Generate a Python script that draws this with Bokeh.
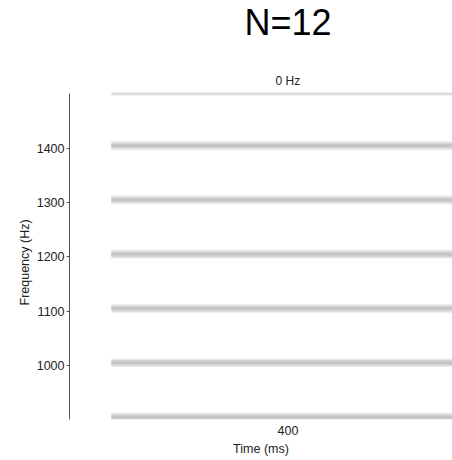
from bokeh.plotting import figure
from bokeh.models import Range1d, FixedTicker, Label, Title
from bokeh.embed import file_html
from bokeh.resources import INLINE

# data
title_text = "N=12"
panel_text = "0 Hz"
y_label = "Frequency (Hz)"
x_label = "Time (ms)"
band_freqs = [905, 1005, 1105, 1205, 1305, 1405, 1505]   # Hz, partial-visible at edges
t_start = [0] * len(band_freqs)                          # ms
t_end = [800] * len(band_freqs)                          # ms
y_ticks = [1000, 1100, 1200, 1300, 1400]
x_ticks = [400]
f_lo, f_hi = 900.5, 1501                                  # displayed frequency window

FONT = "Liberation Sans"

# frame spans the whole canvas height above the x axis; the upper part holds the titles
p = figure(frame_width=383, frame_height=419, output_backend="svg",
           toolbar_location=None, x_range=Range1d(-95, 773), y_range=Range1d(f_lo, 1672.3),
           min_border_left=69, min_border_top=0, min_border_right=0, min_border_bottom=41)
p.outline_line_color = None
p.background_fill_color = "white"
p.border_fill_color = "white"
p.grid.visible = False

# spectral bands as layered stripes, limited to the displayed window
for h, c in [(16, "#e8e8e8"), (10, "#d4d4d4"), (5, "#c4c4c4")]:
    bottoms = [max(f - h / 2, f_lo) for f in band_freqs]
    tops = [min(f + h / 2, f_hi) for f in band_freqs]
    p.quad(left=t_start, right=t_end, bottom=bottoms, top=tops, fill_color=c, line_color=None)

# y axis
ya = p.yaxis[0]
ya.ticker = FixedTicker(ticks=y_ticks)
ya.bounds = (f_lo, f_hi)
ya.major_label_text_font = FONT
ya.major_label_text_font_size = "12.5px"
ya.major_label_text_color = "#222222"
ya.major_label_standoff = 2
ya.major_tick_out = 3
ya.major_tick_in = 0
ya.minor_tick_line_color = None
ya.axis_line_color = "#555555"
ya.major_tick_line_color = "#555555"

# y axis label, centred on the axis span (not on the full frame)
p.add_layout(Title(text=y_label, align="left", offset=114, vertical_align="bottom",
                   text_font=FONT, text_font_size="12.5px", text_font_style="normal",
                   text_color="#222222", standoff=4), "left")

# x axis
xa = p.xaxis[0]
xa.ticker = FixedTicker(ticks=x_ticks)
xa.axis_label = x_label
xa.axis_label_text_font = FONT
xa.axis_label_text_font_size = "12.5px"
xa.axis_label_text_font_style = "normal"
xa.axis_label_text_color = "#222222"
xa.axis_label_standoff = 4
xa.major_label_text_font = FONT
xa.major_label_text_font_size = "12.5px"
xa.major_label_text_color = "#222222"
xa.major_label_standoff = 6
xa.major_tick_out = 0
xa.major_tick_in = 0
xa.minor_tick_line_color = None
xa.axis_line_color = None
xa.major_tick_line_color = None

# titles
p.add_layout(Label(x=400, y=397, x_units="data", y_units="screen", text=title_text,
                   text_font=FONT, text_font_size="36px", text_color="black",
                   text_align="center", text_baseline="middle"))
p.add_layout(Label(x=400, y=338.5, x_units="data", y_units="screen", text=panel_text,
                   text_font=FONT, text_font_size="12px", text_color="#222222",
                   text_align="center", text_baseline="middle"))

open("out.html", "w").write(file_html(p, INLINE))
